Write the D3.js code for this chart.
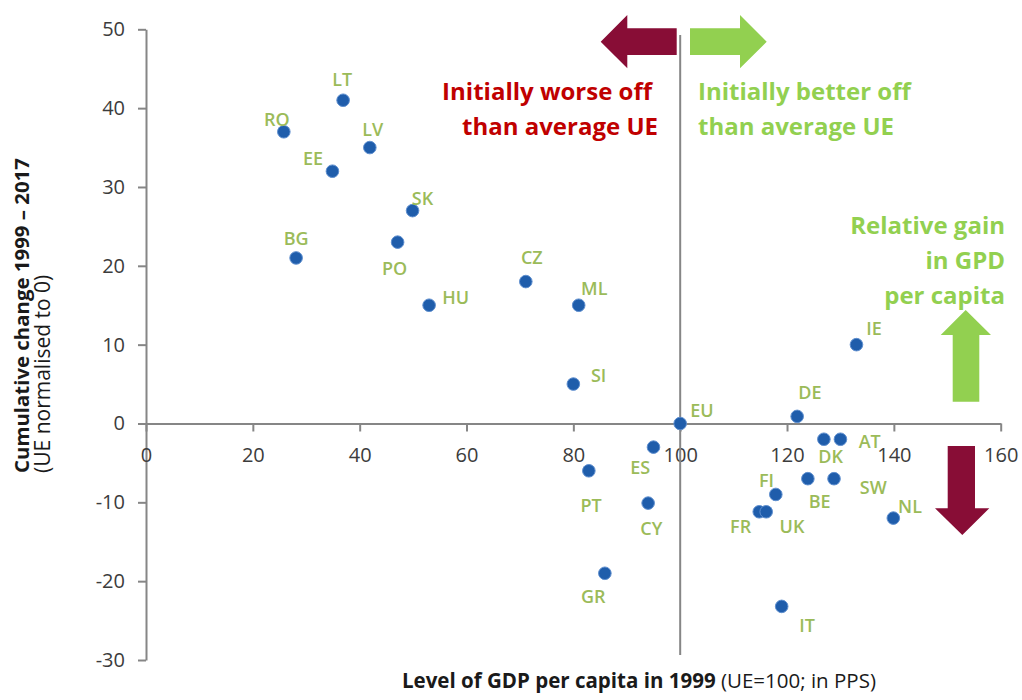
<!DOCTYPE html>
<html>
<head>
<meta charset="utf-8">
<script src="https://cdn.jsdelivr.net/npm/d3@7"></script>
<style>
  html, body { margin: 0; padding: 0; background: #fff; }
  svg { display: block; font-family: "Open Sans", Lato, sans-serif; }
</style>
</head>
<body>
<svg id="chart" width="1022" height="700"></svg>
<script>
// Member states and EU average
const countries = ["RO","LT","LV","EE","SK","BG","PO","HU","CZ","ML","SI","EU","ES","PT","CY","GR",
                   "IE","DE","DK","AT","BE","SW","FI","FR","UK","NL","IT"];
// Level of GDP per capita in 1999 (UE=100; in PPS)
const gdp1999 = [25.8, 36.9, 41.9, 34.9, 49.9, 28.1, 47.1, 53.0, 71.1, 81.0, 80.0, 100, 95.0, 82.9, 94.0, 85.9,
                 133.0, 121.9, 126.9, 130.0, 123.9, 128.8, 117.9, 114.8, 116.1, 139.9, 119.0];
// Cumulative change 1999-2017 (UE normalised to 0)
const cumChange = [37, 41, 35, 32, 27, 21, 23, 15, 18, 15, 5, 0, -3, -6, -10.1, -19,
                   10, 0.9, -2, -2, -7, -7, -9, -11.2, -11.2, -12, -23.2];

const xTicks = [0, 20, 40, 60, 80, 100, 120, 140, 160];
const yTicks = [-30, -20, -10, 0, 10, 20, 30, 40, 50];

const svg = d3.select("#chart");

const x = d3.scaleLinear().domain([0, 160]).range([146, 1000.7]);
const y = d3.scaleLinear().domain([-30, 50]).range([660, 29.3]);

const axisColor = "#868686";
const tickText = "#3c3c3c";
const labelGreen = "#9bbb59";
const brightGreen = "#92d050";
const darkRed = "#880d36";
const textRed = "#c00000";
const plainFormat = d => String(d);   // hyphen-minus for negative ticks

// Y axis (vertical line at x = 0)
const yAxis = svg.append("g")
  .attr("transform", `translate(${x(0)},0)`)
  .call(d3.axisLeft(y).tickValues(yTicks).tickFormat(plainFormat)
    .tickSize(8).tickPadding(13).tickSizeOuter(0));
yAxis.select(".domain").attr("stroke", axisColor).attr("stroke-width", 2);
yAxis.selectAll(".tick line").attr("stroke", axisColor).attr("stroke-width", 2);
yAxis.selectAll(".tick text")
  .attr("fill", tickText).attr("font-size", 20).attr("font-family", "'Open Sans', sans-serif");

// X axis crossing at y = 0
const xAxis = svg.append("g")
  .attr("transform", `translate(0,${y(0)})`)
  .call(d3.axisBottom(x).tickValues(xTicks).tickFormat(plainFormat)
    .tickSize(8).tickPadding(0).tickSizeOuter(0));
xAxis.select(".domain").attr("stroke", axisColor).attr("stroke-width", 2);
xAxis.selectAll(".tick line").attr("stroke", axisColor).attr("stroke-width", 2);
xAxis.selectAll(".tick text")
  .attr("fill", tickText).attr("font-size", 20).attr("font-family", "'Open Sans', sans-serif")
  .attr("dy", null).attr("y", 39);

// Reference line at the EU average level
svg.append("line")
  .attr("x1", x(100)).attr("x2", x(100))
  .attr("y1", 35).attr("y2", 655)
  .attr("stroke", axisColor).attr("stroke-width", 2);

// Direction arrows
function arrowPath(points) {
  return "M" + points.map(p => p.join(",")).join("L") + "Z";
}
// pointing left
svg.append("path").attr("fill", darkRed).attr("d", arrowPath([
  [600.7, 41.7], [627.3, 15], [627.3, 28.3], [676.7, 28.3], [676.7, 55], [627.3, 55], [627.3, 68.3]
]));
// pointing right
svg.append("path").attr("fill", brightGreen).attr("d", arrowPath([
  [766.7, 41.7], [740, 15], [740, 28.3], [690, 28.3], [690, 55], [740, 55], [740, 68.3]
]));
// pointing up
svg.append("path").attr("fill", brightGreen).attr("d", arrowPath([
  [965.7, 310], [991, 335], [979.3, 335], [979.3, 401.7], [952.7, 401.7], [952.7, 335], [940.7, 335]
]));
// pointing down
svg.append("path").attr("fill", darkRed).attr("d", arrowPath([
  [962.3, 535], [989.3, 508.3], [975, 508.3], [975, 446], [947.7, 446], [947.7, 508.3], [935, 508.3]
]));

// Annotation texts
function textBlock(lines, xPos, yPos, anchor, color, size) {
  const t = svg.append("text")
    .attr("fill", color).attr("font-size", size).attr("font-weight", 700)
    .attr("text-anchor", anchor);
  lines.forEach((l, i) => {
    t.append("tspan").attr("x", xPos[i]).attr("y", yPos + i * 35).text(l);
  });
}
textBlock(["Initially worse off", "than average UE"], [652, 658], 100, "end", textRed, 24);
textBlock(["Initially better off", "than average UE"], [698, 698], 100, "start", brightGreen, 24);
textBlock(["Relative gain", "in GPD", "per capita"], [1005, 1005, 1005], 233.5, "end", brightGreen, 24);

// Data points
const data = countries.map((c, i) => ({ code: c, gdp: gdp1999[i], change: cumChange[i] }));

svg.append("g").selectAll("circle")
  .data(data)
  .join("circle")
  .attr("cx", d => x(d.gdp))
  .attr("cy", d => y(d.change))
  .attr("r", 6.3)
  .attr("fill", "#1f5dab")
  .attr("stroke", "#5f8fcf")
  .attr("stroke-width", 1);

// Label placement around each point (dx, dy in px; text centred)
const labelOffset = {
  RO: [-7, -5.6], LT: [-1, -14], LV: [3, -11.7], EE: [-19.4, -6], SK: [10, -5.7],
  BG: [0, -12.7], PO: [-3, 33.3], HU: [26.5, -1], CZ: [6, -17.3], ML: [15.6, -10],
  SI: [25.3, -1.6], EU: [21.7, -6], ES: [-13.3, 27.3], PT: [2.3, 41.7], CY: [3.2, 32.3],
  GR: [-11.7, 29.6], IE: [17.6, -10], DE: [12.7, -17.7], DK: [6.7, 24], AT: [29.3, 9],
  BE: [11.8, 29], SW: [39.3, 15.7], FI: [-9.3, -7.6], FR: [-18.6, 21], UK: [25.8, 21],
  NL: [16.7, -4.6], IT: [25.5, 26]
};

svg.append("g").selectAll("text")
  .data(data)
  .join("text")
  .attr("x", d => x(d.gdp) + labelOffset[d.code][0])
  .attr("y", d => y(d.change) + labelOffset[d.code][1])
  .attr("text-anchor", "middle")
  .attr("fill", labelGreen)
  .attr("font-size", 18)
  .attr("font-weight", 600)
  .text(d => d.code);

// Axis titles
const yTitle = svg.append("g").attr("transform", "translate(0,473) rotate(-90)");
yTitle.append("text").attr("x", 0).attr("y", 29)
  .attr("font-size", 20.4).attr("font-weight", 700).attr("fill", "#1a1a1a")
  .text("Cumulative change 1999 – 2017");
yTitle.append("text").attr("x", 0).attr("y", 50)
  .attr("font-size", 21).attr("fill", "#1a1a1a")
  .text("(UE normalised to 0)");

const xTitle = svg.append("text").attr("x", 402).attr("y", 688)
  .attr("font-size", 20.5).attr("fill", "#1a1a1a");
xTitle.append("tspan").attr("font-weight", 700).text("Level of GDP per capita in 1999");
xTitle.append("tspan").text(" (UE=100; in PPS)");
</script>
</body>
</html>
